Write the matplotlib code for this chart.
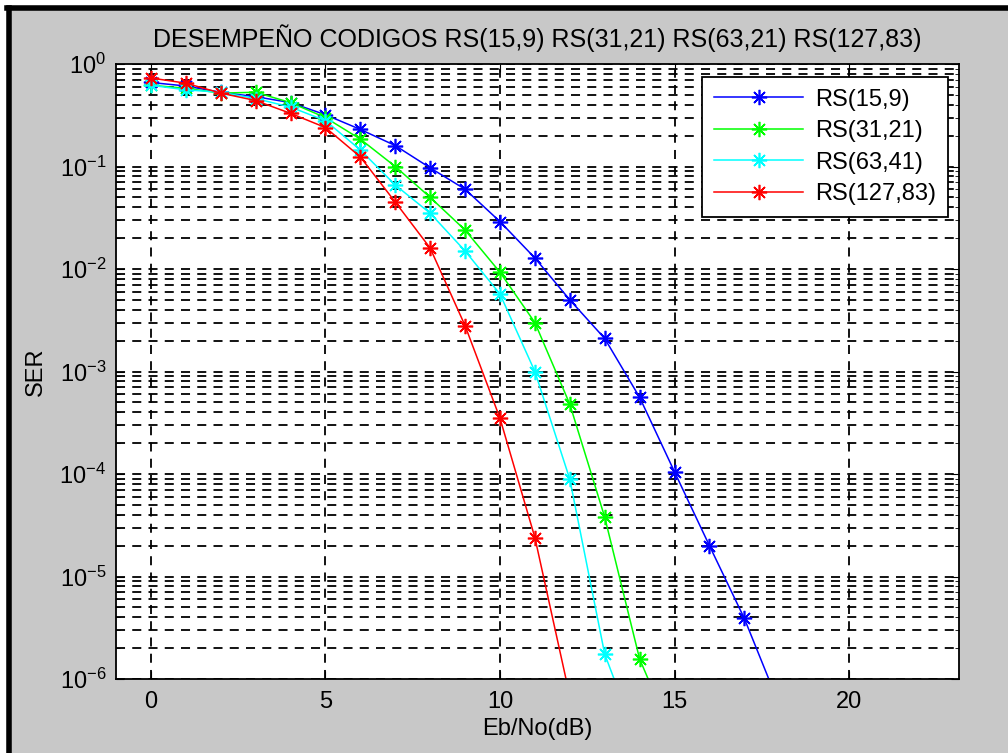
import numpy as np
from matplotlib import pyplot as plt
from matplotlib.patches import Rectangle
from matplotlib.lines import Line2D
from matplotlib.ticker import NullFormatter, FixedLocator

plt.rcParams['font.family'] = ['Liberation Sans', 'DejaVu Sans']
plt.rcParams['mathtext.default'] = 'regular'

# Eb/No (dB) and SER
ebno = list(range(0, 19))
ser_15_9 = [0.66, 0.61, 0.53, 0.48, 0.42, 0.32, 0.23, 0.16, 0.097, 0.06, 0.029,
            0.0128, 0.005, 0.0021, 5.6e-4, 1.05e-4, 2.0e-5, 3.9e-6, 5.6e-7]
ser_31_21 = [0.62, 0.58, 0.52, 0.53, 0.42, 0.30, 0.185, 0.10, 0.05, 0.024, 0.0093,
             0.003, 4.8e-4, 3.8e-5, 1.57e-6, 2.5e-7]
ser_63_41 = [0.62, 0.56, 0.53, 0.46, 0.38, 0.28, 0.145, 0.066, 0.035, 0.015, 0.0057,
             1.0e-3, 8.9e-5, 1.75e-6, 2.2e-7]
ser_127_83 = [0.73, 0.65, 0.52, 0.44, 0.33, 0.24, 0.124, 0.045, 0.016, 0.0028,
              3.5e-4, 2.4e-5, 6.8e-7]

series = [("RS(15,9)", ser_15_9, "#0000ff"),
          ("RS(31,21)", ser_31_21, "#00ff00"),
          ("RS(63,41)", ser_63_41, "#00ffff"),
          ("RS(127,83)", ser_127_83, "#ff0000")]

x_ticks = [0, 5, 10, 15, 20]
y_exps = [0, -1, -2, -3, -4, -5, -6]

fig = plt.figure(figsize=(10.08, 7.53), dpi=100, facecolor='white')
# grey window area with dark frame on left/top
fig.patches.append(Rectangle((11 / 1008, 0), 1, 1 - 10 / 753, transform=fig.transFigure,
                             facecolor='#c8c8c8', edgecolor='none', zorder=-10))
fig.add_artist(Line2D([8.5 / 1008, 8.5 / 1008], [0, 1 - 7.5 / 753], color='black', lw=4))
fig.add_artist(Line2D([6.5 / 1008, 1], [1 - 7.5 / 753, 1 - 7.5 / 753], color='black', lw=4))

ax = fig.add_axes([116 / 1008, 1 - 679 / 753, (959 - 116) / 1008, (679 - 64) / 753])
ax.set_facecolor('white')

fs = 17
for name, vals, col in series:
    ax.semilogy(ebno[:len(vals)], vals, color=col, lw=1.1, marker=(8, 2, 0),
                markersize=11, markeredgewidth=1.2, label=name)

ax.set_xlim(-1, 23.15)
ax.set_ylim(1e-6, 1)
ax.set_xticks(x_ticks)
ax.set_yticks([10.0 ** e for e in y_exps])
ax.set_yticklabels(['$10^{%d}$' % e for e in y_exps])
minor = [m * 10.0 ** e for e in range(-6, 0) for m in range(2, 10)]
ax.yaxis.set_minor_locator(FixedLocator(minor))
ax.yaxis.set_minor_formatter(NullFormatter())

ax.grid(True, which='major', axis='both', color='black', linestyle=(0, (5, 4)), lw=1.3)
ax.grid(True, which='minor', axis='y', color='black', linestyle=(0, (5, 4)), lw=1.3)

ax.tick_params(which='both', direction='in', top=True, right=True, labelsize=fs,
               colors='black')
ax.tick_params(which='major', length=6)
ax.tick_params(which='minor', length=3)
ax.tick_params(axis='x', pad=9)
ax.tick_params(axis='y', pad=7)
for sp in ax.spines.values():
    sp.set_linewidth(1.3)

ax.set_title(u"DESEMPEÑO CODIGOS RS(15,9) RS(31,21) RS(63,21) RS(127,83)", fontsize=18, pad=12)
ax.set_xlabel("Eb/No(dB)", fontsize=fs, labelpad=3)
ax.set_ylabel("SER", fontsize=fs, labelpad=9)

leg = ax.legend(loc='upper right', bbox_to_anchor=(0.987, 0.979), borderaxespad=0,
                fontsize=fs, fancybox=False, framealpha=1, edgecolor='black',
                borderpad=0.5, handlelength=3.8, labelspacing=0.4, handletextpad=0.5)
leg.get_frame().set_linewidth(1.3)

fig.savefig('out.png', dpi=100, facecolor=fig.get_facecolor())
